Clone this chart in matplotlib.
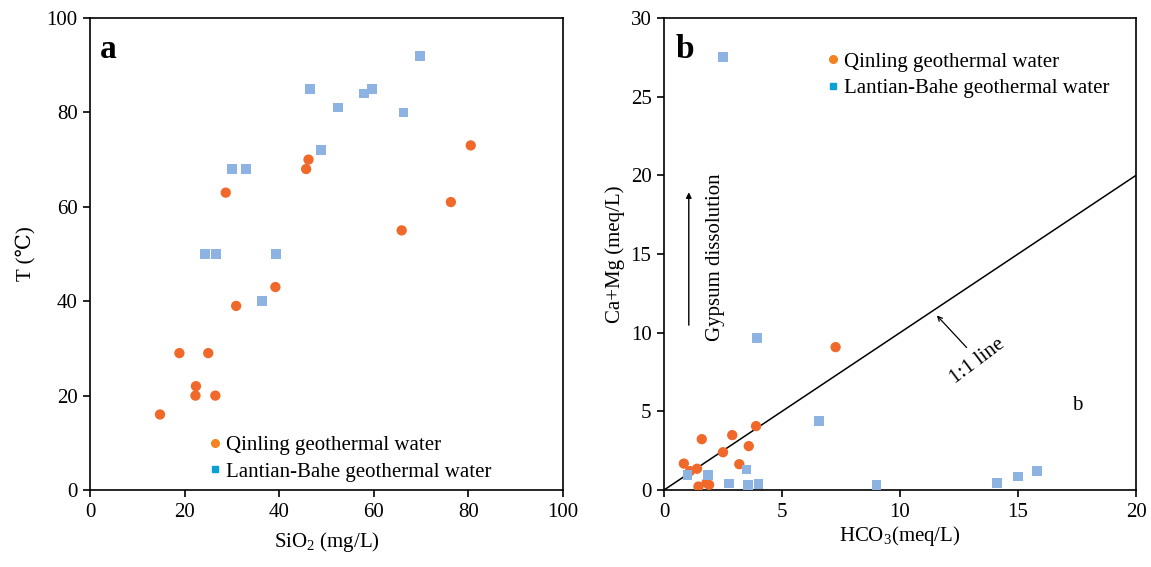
import matplotlib
matplotlib.use('Agg')
import matplotlib.pyplot as plt
from matplotlib.lines import Line2D

plt.rcParams['font.family'] = ['Liberation Serif', 'DejaVu Serif']
plt.rcParams['mathtext.fontset'] = 'custom'
plt.rcParams['mathtext.rm'] = 'Liberation Serif'
plt.rcParams['mathtext.it'] = 'Liberation Serif:italic'

# panel a: SiO2 vs temperature
qin_sio2 = [14.8, 18.9, 22.4, 22.3, 25.0, 26.5, 28.7, 30.9, 39.2, 45.7, 46.2, 65.9, 76.3, 80.5]
qin_t = [16, 29, 22, 20, 29, 20, 63, 39, 43, 68, 70, 55, 61, 73]
lb_sio2 = [24.3, 26.6, 30.0, 33.0, 36.4, 39.3, 46.5, 48.8, 52.5, 57.9, 59.6, 66.3, 69.8]
lb_t = [50, 50, 68, 68, 40, 50, 85, 72, 81, 84, 85, 80, 92]

# panel b: HCO3 vs Ca+Mg
qin_hco3 = [7.27, 3.9, 1.6, 2.89, 3.59, 2.5, 3.19, 0.84, 1.1, 1.4, 1.46, 1.8, 1.91]
qin_camg = [9.08, 4.06, 3.23, 3.49, 2.79, 2.4, 1.64, 1.68, 1.2, 1.35, 0.22, 0.46, 0.33]
lb_hco3 = [2.51, 3.93, 6.58, 0.99, 1.86, 3.5, 2.75, 3.55, 4.0, 9.0, 14.1, 15.0, 15.8]
lb_camg = [27.5, 9.65, 4.37, 0.94, 0.94, 1.3, 0.41, 0.31, 0.37, 0.3, 0.43, 0.86, 1.22]

orange = '#F0682A'
blue = '#8DB3E2'
leg_orange = '#F58220'
leg_blue = '#0AA0D6'
fs = 15

fig = plt.figure(figsize=(11.51, 5.67), dpi=100)
ax1 = fig.add_axes([0.0782, 0.1358, 0.4109, 0.8325])
ax2 = fig.add_axes([0.5769, 0.1358, 0.4101, 0.8325])

handles = [
    Line2D([], [], marker='o', ls='none', color=leg_orange, markersize=5.5),
    Line2D([], [], marker='s', ls='none', color=leg_blue, markersize=5),
]
labels = ['Qinling geothermal water', 'Lantian-Bahe geothermal water']

ax1.scatter(qin_sio2, qin_t, marker='o', s=55, color=orange, edgecolors='none', zorder=3)
ax1.scatter(lb_sio2, lb_t, marker='s', s=48, color=blue, edgecolors='none', zorder=3)
ax1.set_xlim(0, 100)
ax1.set_ylim(0, 100)
ax1.set_xticks(range(0, 101, 20))
ax1.set_yticks(range(0, 101, 20))
ax1.set_xlabel('SiO$_2$ (mg/L)', fontsize=fs, labelpad=6)
ax1.set_ylabel('T (℃)', fontsize=fs, labelpad=8)
ax1.text(0.02, 0.965, 'a', transform=ax1.transAxes, fontsize=24, fontweight='bold', va='top')
ax1.legend(handles, labels, loc='upper left', bbox_to_anchor=(0.228, 0.138), frameon=False,
           fontsize=fs, handlelength=0.6, handletextpad=0.25, labelspacing=0.35, borderpad=0)

ax2.scatter(qin_hco3, qin_camg, marker='o', s=55, color=orange, edgecolors='none', zorder=3)
ax2.scatter(lb_hco3, lb_camg, marker='s', s=48, color=blue, edgecolors='none', zorder=3)
ax2.plot([0, 20], [0, 20], color='black', lw=1.1, zorder=2)
ax2.set_xlim(0, 20)
ax2.set_ylim(0, 30)
ax2.set_xticks(range(0, 21, 5))
ax2.set_yticks(range(0, 31, 5))
ax2.set_xlabel('HCO$_3$(meq/L)', fontsize=fs, labelpad=2)
ax2.set_ylabel('Ca+Mg (meq/L)', fontsize=fs, labelpad=4)
ax2.text(0.025, 0.965, 'b', transform=ax2.transAxes, fontsize=24, fontweight='bold', va='top')
ax2.legend(handles, labels, loc='upper left', bbox_to_anchor=(0.322, 0.95), frameon=False,
           fontsize=fs, handlelength=0.6, handletextpad=0.25, labelspacing=0.35, borderpad=0)

ax2.annotate('', xy=(1.05, 19.1), xytext=(1.05, 10.3),
             arrowprops=dict(arrowstyle='-|>', color='black', lw=1, mutation_scale=8))
ax2.text(2.2, 14.8, 'Gypsum dissolution', rotation=90, ha='center', va='center', fontsize=fs)
ax2.annotate('', xy=(11.48, 11.22), xytext=(12.9, 8.93),
             arrowprops=dict(arrowstyle='->', color='black', lw=0.9, mutation_scale=8))
ax2.text(13.3, 8.17, '1:1 line', rotation=37, ha='center', va='center', fontsize=fs)
ax2.text(17.5, 5.4, 'b', ha='center', va='center', fontsize=fs)

for ax in (ax1, ax2):
    for sp in ax.spines.values():
        sp.set_linewidth(1.2)
    ax.tick_params(direction='out', length=5, width=1.2, labelsize=fs, pad=4)

fig.savefig('out.png', dpi=100)
